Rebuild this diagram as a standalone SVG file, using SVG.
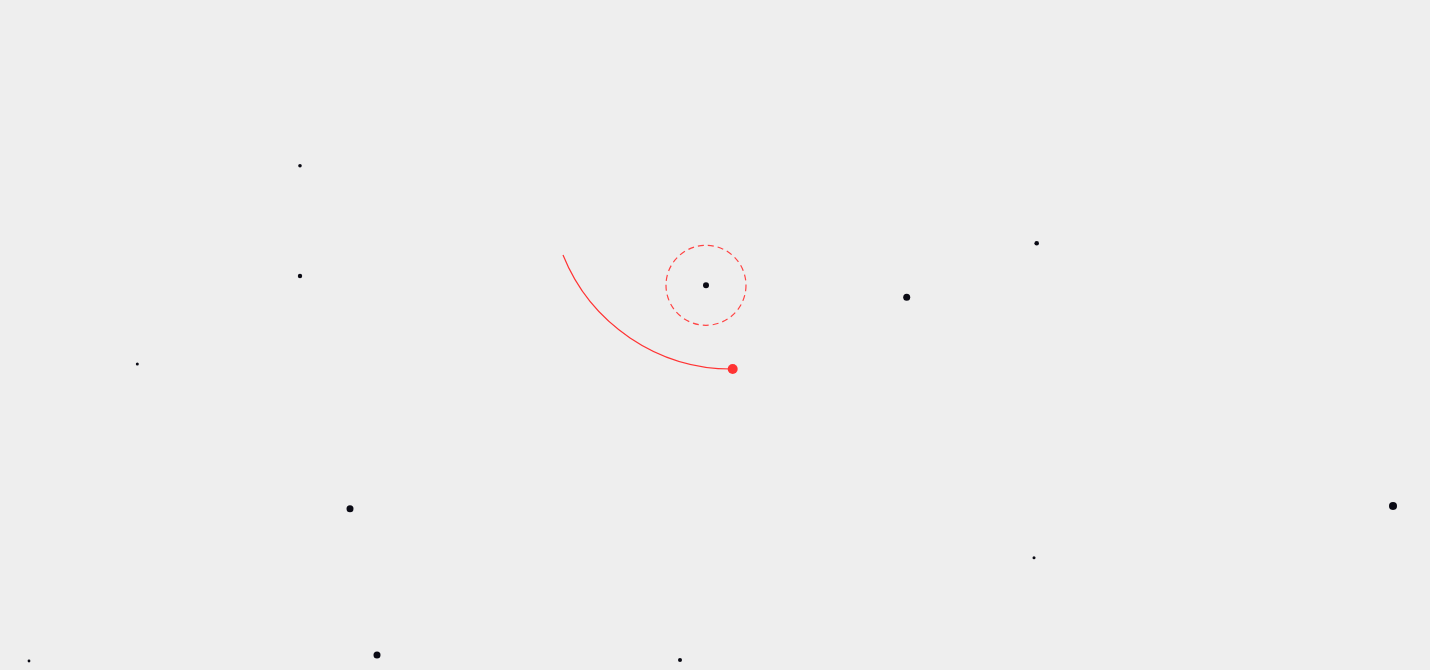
<svg xmlns="http://www.w3.org/2000/svg" width="1430" height="670" viewBox="0 0 1430 670">
<style>
.dot{fill:#0a0a14}
.arc{fill:none;stroke:#ff3333;stroke-width:1.2}
.ring{fill:none;stroke:#ff4444;stroke-width:1.2;stroke-dasharray:6 4}
</style>
<rect width="1430" height="670" fill="#eeeeee"/>
<g id="stars">
<circle class="dot" cx="300" cy="165.7" r="1.8"/>
<circle class="dot" cx="300" cy="276" r="2.2"/>
<circle class="dot" cx="137.3" cy="364" r="1.5"/>
<circle class="dot" cx="906.7" cy="297.3" r="3.5"/>
<circle class="dot" cx="1036.7" cy="243.3" r="2.3"/>
<circle class="dot" cx="1393" cy="506" r="4"/>
<circle class="dot" cx="29" cy="661" r="1.4"/>
<circle class="dot" cx="350" cy="508.7" r="3.5"/>
<circle class="dot" cx="377" cy="655" r="3.5"/>
<circle class="dot" cx="680" cy="660" r="2"/>
<circle class="dot" cx="1034" cy="557.7" r="1.5"/>
</g>
<g id="target">
<circle class="ring" cx="706" cy="285.3" r="40"/>
<circle class="dot" cx="706" cy="285.3" r="3"/>
</g>
<g id="connectors">
<path class="arc" d="M563,255 A182,182 0 0 0 732,369"/>
</g>
<g id="mover">
<circle cx="732.7" cy="369" r="5" fill="#ff3333"/>
</g>
</svg>
